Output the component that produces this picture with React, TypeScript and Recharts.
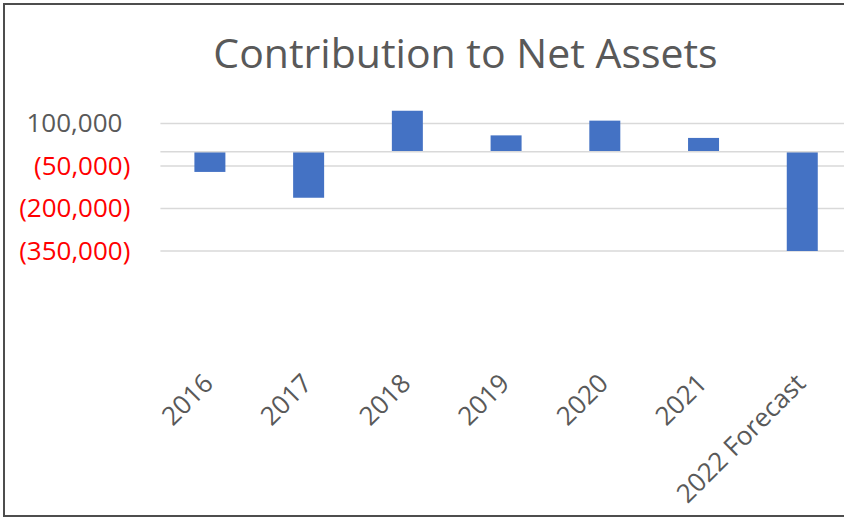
import { BarChart, Bar, XAxis, YAxis, CartesianGrid, ReferenceLine } from 'recharts';

const categories = ['2016', '2017', '2018', '2019', '2020', '2021', '2022 Forecast'];
const contributions = [-71000, -162000, 145000, 58000, 110000, 49000, -350000];
const yTicks = [-350000, -200000, -50000, 100000];

const data = categories.map((year, i) => ({ year, value: contributions[i] }));

const FONT = '"Open Sans", "Noto Sans", sans-serif';

function formatAmount(v: number): string {
  const s = Math.abs(v).toLocaleString('en-US');
  return v < 0 ? `(${s})` : s;
}

const YTick = ({ x, y, payload }: any) => {
  const v = payload.value as number;
  return (
    <text
      x={x}
      y={y}
      dx={v < 0 ? 0 : -8}
      dy={9}
      textAnchor="end"
      fontSize={26}
      fontFamily={FONT}
      fill={v < 0 ? '#ff0000' : '#595959'}
    >
      {formatAmount(v)}
    </text>
  );
};

const XTick = ({ x, y, payload }: any) => {
  const tx = x + 5;
  const ty = y + 134;
  return (
    <text
      x={tx}
      y={ty}
      textAnchor="end"
      fontSize={26}
      fontFamily={FONT}
      fill="#595959"
      transform={`rotate(-45, ${tx}, ${ty})`}
    >
      {payload.value}
    </text>
  );
};

export default function App() {
  return (
    <div
      style={{
        position: 'absolute',
        left: 0,
        top: 0,
        width: 844,
        height: 518,
        overflow: 'hidden',
        background: '#ffffff',
      }}
    >
      <div
        style={{
          position: 'absolute',
          left: 3,
          top: 3,
          width: 841,
          height: 514,
          borderTop: '2px solid #4d4d4d',
          borderLeft: '2px solid #4d4d4d',
          borderBottom: '2px solid #4d4d4d',
          boxSizing: 'border-box',
        }}
      />
      <svg width={844} height={100} style={{ position: 'absolute', left: 0, top: 0 }}>
        <text x={465.5} y={68} textAnchor="middle" fontSize={41} fontFamily={FONT} fill="#595959">
          Contribution to Net Assets
        </text>
      </svg>
      <div style={{ position: 'absolute', left: 0, top: 0 }}>
        <BarChart
          width={844}
          height={518}
          data={data}
          margin={{ top: 109.3, right: -7.5, left: 0, bottom: 67 }}
        >
          <CartesianGrid vertical={false} syncWithTicks stroke="#d9d9d9" strokeWidth={1.5} />
          <XAxis
            dataKey="year"
            height={200}
            axisLine={false}
            tickLine={false}
            tickSize={0}
            tickMargin={0}
            interval={0}
            tick={<XTick />}
          />
          <YAxis
            type="number"
            domain={[-350000, 150000]}
            ticks={yTicks}
            width={160.4}
            axisLine={false}
            tickLine={false}
            tickSize={0}
            tickMargin={30}
            interval={0}
            tick={<YTick />}
          />
          <ReferenceLine y={0} stroke="#d9d9d9" strokeWidth={1.5} />
          <Bar dataKey="value" fill="#4472c4" barSize={31} isAnimationActive={false} />
        </BarChart>
      </div>
    </div>
  );
}
